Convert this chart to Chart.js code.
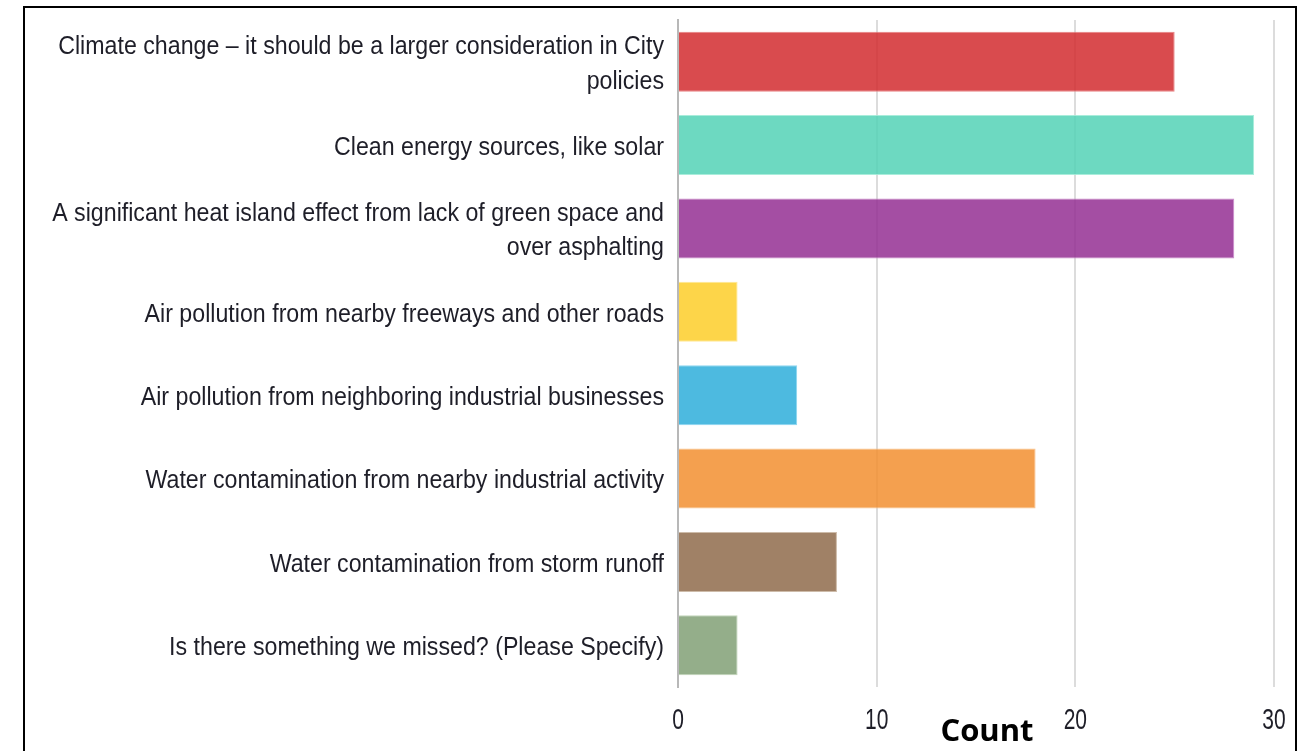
<!DOCTYPE html>
<html>
<head>
<meta charset="utf-8">
<script src="https://cdn.jsdelivr.net/npm/chart.js@4"></script>
<style>
  html, body { margin: 0; padding: 0; background: #fff; overflow: hidden; }
  #wrap { position: relative; width: 1309px; height: 751px; }
  #frame { position: absolute; left: 23px; top: 6px; width: 1274px; height: 800px; border: 2px solid #000; box-sizing: border-box; pointer-events: none; }
  canvas { position: absolute; left: 0; top: 0; }
</style>
</head>
<body>
<div id="wrap">
  <canvas id="c" width="1309" height="751"></canvas>
  <div id="frame"></div>
</div>
<script>
const categories = [
  ["Climate change \u2013 it should be a larger consideration in City", "policies"],
  "Clean energy sources, like solar",
  ["A significant heat island effect from lack of green space and", "over asphalting"],
  "Air pollution from nearby freeways and other roads",
  "Air pollution from neighboring industrial businesses",
  "Water contamination from nearby industrial activity",
  "Water contamination from storm runoff",
  "Is there something we missed? (Please Specify)"
];
const counts = [25, 29, 28, 3, 6, 18, 8, 3];
const barColors = [
  "rgba(210,44,47,0.85)",
  "rgba(83,210,182,0.85)",
  "rgba(148,47,147,0.85)",
  "rgba(253,206,41,0.85)",
  "rgba(46,174,219,0.85)",
  "rgba(242,143,48,0.85)",
  "rgba(143,107,75,0.85)",
  "rgba(129,160,117,0.85)"
];
const borderColors = [
  "rgba(230,120,120,0.9)",
  "rgba(160,235,215,0.9)",
  "rgba(200,130,200,0.9)",
  "rgba(255,230,140,0.9)",
  "rgba(130,210,240,0.9)",
  "rgba(250,190,130,0.9)",
  "rgba(200,180,160,0.9)",
  "rgba(190,210,180,0.9)"
];
const xTicks = [0, 10, 20, 30];
const axisTitle = "Count";

const labelFont = "'Liberation Sans', Arial, sans-serif";

// Draw each scale's labels horizontally condensed (like Arial Narrow) around their anchor.
function condenseLabels(scale, k, dy) {
  if (scale._condensed) return;
  scale._condensed = true;
  const orig = scale.drawLabels.bind(scale);
  scale.drawLabels = function (area) {
    const ctx = this.ctx;
    const fill = ctx.fillText;
    ctx.fillText = function (t, x, y, mw) {
      ctx.save();
      ctx.translate(x, y + dy);
      ctx.scale(k, 1);
      fill.call(ctx, t, 0, 0);
      ctx.restore();
    };
    try { orig(area); } finally { ctx.fillText = fill; }
  };
}

const narrowText = {
  id: 'narrowText',
  beforeDraw(chart) {
    condenseLabels(chart.scales.y, 0.875, 2.5);
    condenseLabels(chart.scales.x, 0.7, 0);
  }
};

const countTitle = {
  id: 'countTitle',
  afterDraw(chart) {
    const ctx = chart.ctx;
    const a = chart.chartArea;
    ctx.save();
    ctx.font = "bold 31px 'Open Sans', 'Liberation Sans', sans-serif";
    ctx.fillStyle = '#000';
    ctx.textAlign = 'center';
    ctx.textBaseline = 'middle';
    ctx.fillText(axisTitle, (a.left + a.right) / 2 + 11, a.bottom + 45);
    ctx.restore();
  }
};

new Chart(document.getElementById('c'), {
  type: 'bar',
  data: {
    labels: categories,
    datasets: [{
      data: counts,
      backgroundColor: barColors,
      borderColor: borderColors,
      borderWidth: 1,
      barPercentage: 0.72,
      categoryPercentage: 1.0
    }]
  },
  plugins: [narrowText, countTitle],
  options: {
    indexAxis: 'y',
    responsive: false,
    animation: false,
    devicePixelRatio: 1,
    layout: { padding: { left: 0, right: 35, top: 20, bottom: 0 } },
    plugins: { legend: { display: false }, tooltip: { enabled: false } },
    scales: {
      x: {
        min: 0, max: 30,
        afterBuildTicks: (s) => { s.ticks = xTicks.map(v => ({ value: v })); },
        afterFit: (s) => { s.height = 64; },
        grid: { color: '#dcdcdc', lineWidth: 2, drawTicks: false },
        border: { display: false },
        ticks: { padding: 16, color: '#1e1e28', font: { family: labelFont, size: 30, lineHeight: 1.2 } },
        title: { display: false }
      },
      y: {
        afterFit: (s) => { s.width = 678; s.paddingTop = 0; s.paddingBottom = 0; },
        grid: { display: false, drawTicks: false },
        border: { display: true, color: '#b8b8b8', width: 2 },
        ticks: { padding: 14, color: '#1e1e28', font: { family: labelFont, size: 26.5, lineHeight: 1.3 } }
      }
    }
  }
});
</script>
</body>
</html>
